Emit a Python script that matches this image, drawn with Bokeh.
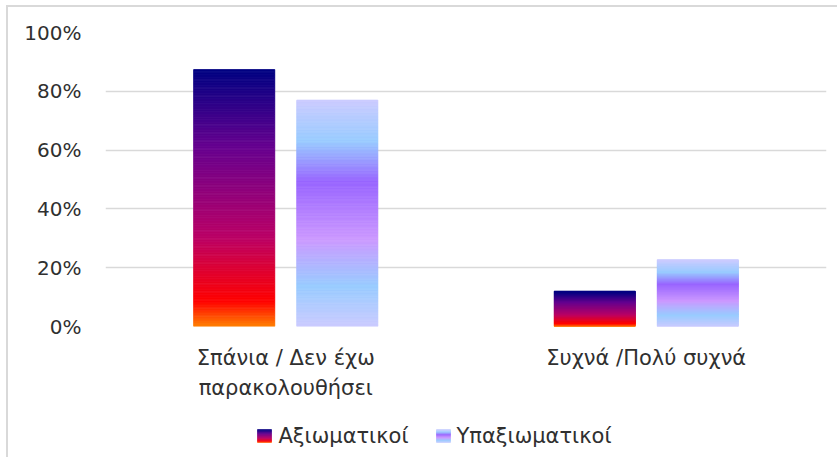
from bokeh.plotting import figure
from bokeh.models import ColumnDataSource, Range1d, FixedTicker, NumeralTickFormatter
from bokeh.layouts import column
from bokeh.embed import file_html
from bokeh.resources import INLINE
from bokeh.core.properties import value

categories = ["Σπάνια / Δεν έχω\nπαρακολουθήσει", "Συχνά /Πολύ συχνά"]
series_names = ["Αξιωματικοί", "Υπαξιωματικοί"]
axiomatikoi = [0.874, 0.12]
ypaxiomatikoi = [0.77, 0.227]
y_ticks = [0, 0.2, 0.4, 0.6, 0.8, 1.0]

# gradient stops (position from top of bar, colour)
grad_1 = [(0.0, "#000082"), (0.30, "#66008F"), (0.65, "#BA0066"), (0.90, "#FF0000"), (1.0, "#FF8200")]
grad_2 = [(0.0, "#CCCCFF"), (0.18, "#99CCFF"), (0.36, "#9966FF"), (0.61, "#CC99FF"), (0.82, "#99CCFF"), (1.0, "#CCCCFF")]

FONT = "DejaVu Sans"
TXT = "#303030"
GRID = "#d9d9d9"
N = 160


def hex2rgb(h):
    h = h.lstrip("#")
    return tuple(int(h[i:i + 2], 16) for i in (0, 2, 4))


def grad_color(stops, t):
    for (t0, c0), (t1, c1) in zip(stops[:-1], stops[1:]):
        if t0 <= t <= t1:
            f = 0 if t1 == t0 else (t - t0) / (t1 - t0)
            a, b = hex2rgb(c0), hex2rgb(c1)
            return "#%02x%02x%02x" % tuple(round(a[k] + (b[k] - a[k]) * f) for k in range(3))
    return stops[-1][1]


W = 829
FRAME_W = 721
p = figure(width=W, height=395, output_backend="svg", toolbar_location=None,
           x_range=Range1d(0, 2), y_range=Range1d(0, 1.0),
           min_border_left=97, min_border_right=11, min_border_top=25, min_border_bottom=75)
p.outline_line_color = None
p.background_fill_color = "white"
p.border_fill_color = "white"

bar_w = 0.225
offset = 0.143
cat_x = [i + 0.5 for i in range(len(categories))]

for vals, stops, off in ((axiomatikoi, grad_1, -offset), (ypaxiomatikoi, grad_2, offset)):
    xs, bottoms, tops, colors = [], [], [], []
    for cx, v in zip(cat_x, vals):
        for i in range(N):
            xs.append(cx + off)
            bottoms.append(v * i / N)
            tops.append(v * (i + 1) / N)
            t = 1 - (i + 0.5) / N
            colors.append(grad_color(stops, t))
    src = ColumnDataSource(dict(x=xs, bottom=bottoms, top=tops, color=colors))
    p.vbar(x="x", bottom="bottom", top="top", width=bar_w, fill_color="color",
           line_color="color", line_width=0.8, source=src)

p.ygrid.ticker = FixedTicker(ticks=y_ticks)
p.ygrid.grid_line_color = GRID
p.ygrid.grid_line_width = 1.3
p.xgrid.grid_line_color = None

p.yaxis.ticker = FixedTicker(ticks=y_ticks)
p.yaxis.formatter = NumeralTickFormatter(format="0%")
p.yaxis.axis_line_color = None
p.yaxis.major_tick_line_color = None
p.yaxis.minor_tick_line_color = None
p.yaxis.major_label_standoff = 18
p.yaxis.major_label_text_font = FONT
p.yaxis.major_label_text_font_size = "20px"
p.yaxis.major_label_text_color = TXT

p.xaxis.ticker = FixedTicker(ticks=cat_x)
p.xaxis.major_label_overrides = {x: c for x, c in zip(cat_x, categories)}
p.xaxis.axis_line_color = None
p.xaxis.major_tick_line_color = None
p.xaxis.minor_tick_line_color = None
p.xaxis.major_label_standoff = 13
p.xaxis.major_label_text_font = FONT
p.xaxis.major_label_text_font_size = "21px"
p.xaxis.major_label_text_color = TXT
p.xaxis.major_label_text_line_height = 1.25

# legend strip (its frame is aligned with the main frame by the column layout)
lg = figure(width=W, height=55, output_backend="svg", toolbar_location=None,
            x_range=Range1d(0, FRAME_W), y_range=Range1d(0, 55),
            min_border_left=97, min_border_right=11, min_border_top=0, min_border_bottom=0)
lg.axis.visible = False
lg.grid.grid_line_color = None
lg.outline_line_color = None
lg.border_fill_color = "white"

icon_x = [152, 331]
text_x = [173, 351]
icon_bottom, icon_top = 15, 28
M = 20
for ix, stops in zip(icon_x, (grad_1, grad_2)):
    ls, rs, bs, ts, cs = [], [], [], [], []
    for i in range(M):
        ls.append(ix)
        rs.append(ix + 14)
        bs.append(icon_bottom + (icon_top - icon_bottom) * i / M)
        ts.append(icon_bottom + (icon_top - icon_bottom) * (i + 1) / M)
        cs.append(grad_color(stops, 1 - (i + 0.5) / M))
    lg.quad(left=ls, right=rs, bottom=bs, top=ts, fill_color=cs, line_color=cs, line_width=0.5)

lg.text(x=text_x, y=[21.5, 21.5], text=series_names, text_font=value(FONT),
        text_font_size="21px", text_color=TXT, text_baseline="middle", text_align="left")

layout = column(p, lg, spacing=0,
                styles={"border-top": "2px solid #d9d9d9", "border-left": "2px solid #d9d9d9",
                        "margin-left": "6px", "margin-top": "5px"})

open("out.html", "w").write(file_html(layout, INLINE))
